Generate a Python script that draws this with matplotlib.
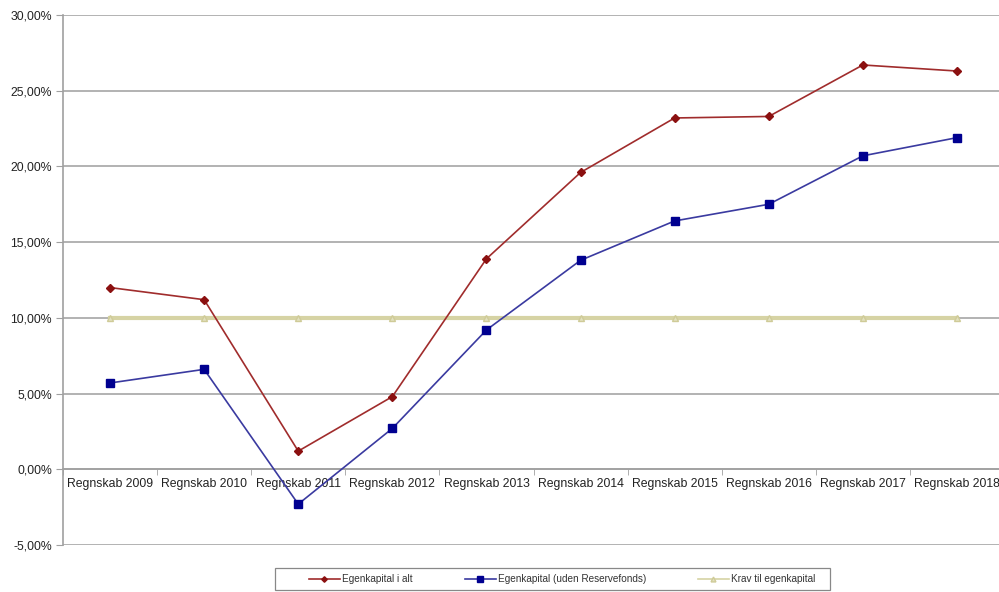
import numpy as np
import matplotlib.pyplot as plt
from matplotlib.ticker import FuncFormatter
from matplotlib.patches import Rectangle

years = ["Regnskab 2009", "Regnskab 2010", "Regnskab 2011", "Regnskab 2012", "Regnskab 2013",
         "Regnskab 2014", "Regnskab 2015", "Regnskab 2016", "Regnskab 2017", "Regnskab 2018"]
egenkapital = [12.0, 11.2, 1.2, 4.8, 13.9, 19.6, 23.2, 23.3, 26.7, 26.3]
uden_reserve = [5.7, 6.6, -2.3, 2.7, 9.2, 13.8, 16.4, 17.5, 20.7, 21.9]
krav = [10.0] * 10

plt.rcParams['font.family'] = ['Liberation Sans', 'DejaVu Sans']

fig = plt.figure(figsize=(9.99, 5.92), dpi=100)
ax = fig.add_axes([63/999, 47/592, (1004-63)/999, 530/592])
x = np.arange(len(years))

ax.plot(x, krav, color='#D6D3A4', lw=3, marker='^', ms=5, mfc='#E2E0BE', mec='#CFCB98',
        label='Krav til egenkapital', zorder=3)
ax.plot(x, egenkapital, color='#A02C2C', lw=1.2, marker='D', ms=4, mfc='#8B1010', mec='#8B1010',
        label='Egenkapital i alt', zorder=4)
ax.plot(x, uden_reserve, color='#3A3AA0', lw=1.2, marker='s', ms=6, mfc='#000090', mec='#000090',
        label='Egenkapital (uden Reservefonds)', zorder=4)

ax.set_xlim(-0.5, 9.5)
ax.set_ylim(-5, 30)
ax.set_yticks(np.arange(-5, 31, 5))
ax.yaxis.set_major_formatter(FuncFormatter(lambda v, p: f"{v:.2f}%".replace('.', ',')))
ax.grid(axis='y', color='#A6A6A6', lw=1.2)
ax.set_axisbelow(True)

for s in ['top', 'right']:
    ax.spines[s].set_visible(False)
ax.spines['left'].set_color('#A0A0A0')
ax.spines['left'].set_linewidth(1.2)
ax.spines['bottom'].set_position(('data', 0))
ax.spines['bottom'].set_color('#A0A0A0')
ax.spines['bottom'].set_linewidth(1.2)

ax.set_xticks(x)
ax.set_xticklabels(years)
ax.set_xticks(np.arange(-0.5, 10, 1), minor=True)
ax.tick_params(axis='x', which='major', length=0, pad=6, labelsize=8.8, labelcolor='#222222')
ax.tick_params(axis='x', which='minor', length=4, color='#A0A0A0', direction='out')
ax.tick_params(axis='y', length=5, color='#A0A0A0', labelsize=8.8, pad=3, labelcolor='#222222')

# legend without frame, box drawn separately (Excel style)
h, l = ax.get_legend_handles_labels()
leg_h = [h[1], h[2], h[0]]
leg_l = [l[1], l[2], l[0]]
leg = fig.legend(leg_h, leg_l, loc='center', ncol=3,
                 bbox_to_anchor=(562/999, 1 - 579/592), fontsize=7.2, frameon=False,
                 handlelength=3.1, handletextpad=0.2, columnspacing=5.2,
                 markerscale=0.7)
for line in leg.get_lines():
    line.set_linewidth(1.2)
for t in leg.get_texts():
    t.set_color('#333333')
fig.patches.append(Rectangle((275/999, 1 - 590/592), (830-275)/999, 22/592,
                             transform=fig.transFigure, fill=False,
                             edgecolor='#888888', lw=0.9))

fig.savefig("out.png", dpi=100)
